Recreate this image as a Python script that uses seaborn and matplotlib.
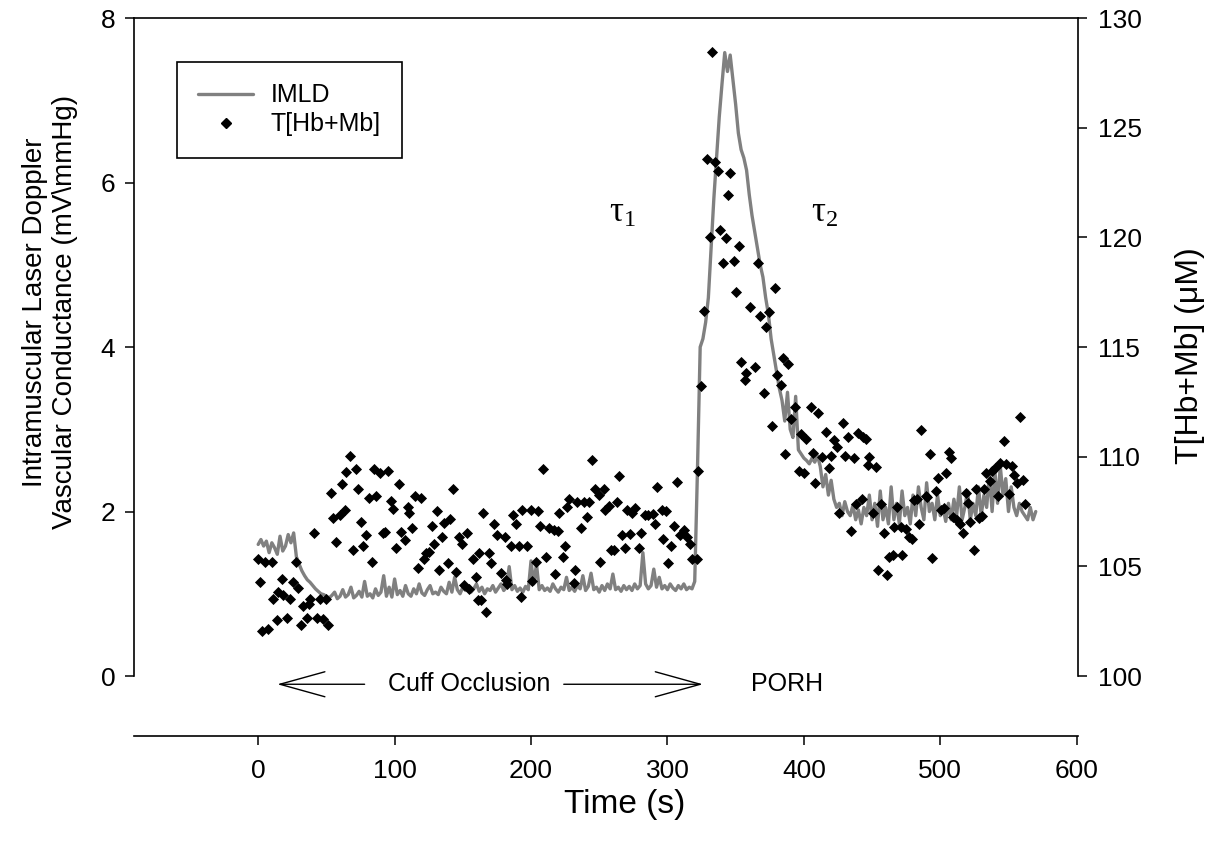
import numpy as np
import pandas as pd
import seaborn as sns
import matplotlib
matplotlib.use("Agg")
import matplotlib.pyplot as plt
from matplotlib.lines import Line2D


# IMLD (left axis, mV/mmHg), sampled every 2 s from 0 to 570 s
imld_time = np.arange(0, 572, 2)
imld_vals = [
    1.60, 1.66, 1.58, 1.64, 1.50, 1.62, 1.56, 1.48, 1.70, 1.52, 1.58, 1.72, 1.62,
    1.74, 1.45, 1.36, 1.28, 1.22, 1.17, 1.14, 1.10, 1.06, 1.03, 1.00, 0.99, 0.97,
    0.95, 0.98, 1.02, 0.94, 0.97, 1.05, 0.96, 0.99, 1.08, 0.95, 0.98, 1.03, 0.96,
    1.15, 0.97, 1.00, 0.95, 1.06, 0.98, 1.02, 1.22, 0.97, 1.08, 0.96, 1.18,
    0.99, 1.04, 0.97, 1.10, 1.00, 0.97, 1.06, 1.00, 1.12, 1.01, 0.98, 1.05, 1.10,
    1.00, 1.02, 0.99, 1.08, 1.03, 1.00, 1.14, 1.02, 1.20, 1.05, 1.00, 1.08,
    1.04, 1.10, 1.02, 1.06, 1.12, 1.03, 1.08, 1.00, 1.06, 1.04, 1.10, 1.02, 1.07,
    1.12, 1.04, 1.08, 1.33, 1.05, 1.10, 1.03, 1.07, 1.02, 1.09, 1.05, 1.40,
    1.12, 1.36, 1.05, 1.10, 1.04, 1.07, 1.03, 1.12, 1.06, 1.02, 1.08, 1.05, 1.20,
    1.04, 1.08, 1.03, 1.10, 1.06, 1.22, 1.04, 1.09, 1.25, 1.05, 1.08, 1.02,
    1.10, 1.04, 1.12, 1.06, 1.24, 1.05, 1.08, 1.03, 1.10, 1.05, 1.09, 1.04, 1.12,
    1.06, 1.10, 1.50, 1.12, 1.06, 1.10, 1.30, 1.08, 1.20, 1.06, 1.10, 1.05,
    1.12, 1.07, 1.04, 1.10, 1.06, 1.12, 1.05, 1.08, 1.06, 1.15, 2.50, 4.00, 4.10,
    4.30, 4.60, 5.20, 5.80, 6.30, 6.80, 7.20, 7.58, 7.35, 7.55, 7.25, 6.95,
    6.60, 6.40, 6.30, 6.15, 5.85, 5.60, 5.40, 5.20, 5.00, 4.85, 4.60, 4.40, 4.10,
    3.90, 3.70, 3.50, 3.35, 3.10, 3.45, 3.00, 2.90, 3.40, 2.75, 2.70, 2.65,
    2.62, 2.58, 2.65, 2.60, 2.68, 2.55, 2.30, 2.45, 2.20, 2.38, 2.15, 2.05, 2.10,
    1.95, 2.12, 2.00, 1.95, 2.08, 1.90, 2.02, 1.85, 2.05, 1.95, 2.20, 1.90,
    2.10, 1.82, 2.25, 1.90, 2.05, 1.85, 2.30, 1.90, 2.10, 1.85, 2.25, 1.95, 2.05,
    1.85, 2.20, 1.95, 2.30, 2.05, 1.90, 2.35, 2.00, 2.10, 1.90, 2.20, 1.95,
    2.05, 1.88, 2.10, 1.90, 2.15, 1.95, 2.30, 1.90, 2.05, 2.25, 1.90, 2.10, 1.95,
    2.30, 1.95, 2.20, 2.05, 2.45, 2.00, 2.50, 2.10, 2.55, 2.20, 2.40, 2.00,
    2.30, 2.05, 1.95, 2.10, 2.00, 1.95, 1.90, 2.05, 1.90, 2.00,
]

# T[Hb+Mb] (right axis, uM)
thb_time = [
    0.0, 1.5, 2.7, 5.1, 7.1, 10.0, 11.2, 13.6, 14.8, 17.3, 18.5, 21.4, 23.4, 25.8,
    27.5, 29.4, 31.4, 33.1, 35.5, 37.0, 38.0, 41.1, 43.3, 45.3, 47.7, 49.6, 51.3,
    53.3, 55.0, 57.4, 59.9, 61.1, 63.5, 64.7, 67.2, 69.6, 71.5, 73.2, 75.2, 76.9,
    78.8, 81.2, 83.2, 84.7, 86.6, 89.1, 91.5, 92.7, 95.1, 97.1, 98.8, 101.2, 102.9,
    104.9, 107.3, 109.7, 110.9, 112.9, 114.6, 117.0, 119.5, 121.4, 123.1, 125.5,
    127.2, 129.2, 131.2, 132.8, 134.8, 136.5, 138.9, 140.7, 143.1, 145.0, 146.9,
    149.1, 151.1, 153.1, 154.7, 157.2, 159.6, 160.8, 161.5, 163.3, 165.0, 166.9,
    169.3, 170.6, 173.0, 174.7, 177.9, 181.0, 181.5, 182.7, 185.2, 186.9, 188.8,
    191.2, 192.9, 193.7, 197.3, 199.8, 201.0, 203.4, 205.1, 206.6, 208.8, 210.7,
    213.1, 216.8, 217.5, 219.7, 220.4, 223.4, 224.8, 226.5, 227.7, 231.4, 232.6,
    233.8, 237.0, 238.7, 240.7, 242.8, 244.7, 246.7, 249.6, 250.9, 253.3, 254.5,
    256.9, 258.9, 260.6, 263.0, 264.7, 266.6, 268.6, 270.3, 272.8, 273.9, 276.4,
    278.8, 280.8, 283.2, 286.1, 289.1, 291.0, 292.7, 295.8, 296.6, 298.8, 300.7,
    302.7, 304.9, 306.8, 309.3, 312.4, 314.1, 316.6, 318.2, 321.4, 322.6, 324.3,
    326.8, 328.7, 331.2, 332.4, 334.8, 336.7, 338.5, 340.4, 342.8, 344.5, 346.2,
    348.9, 350.6, 352.6, 354.2, 356.7, 357.9, 360.4, 364.0, 366.4, 368.1, 370.8,
    372.5, 374.5, 376.9, 378.6, 380.5, 383.0, 384.7, 386.4, 388.3, 390.7, 393.2,
    396.1, 398.0, 400.0, 401.7, 404.9, 406.6, 408.5, 410.7, 413.1, 416.3, 418.8,
    419.9, 422.4, 424.3, 426.1, 428.5, 430.1, 432.1, 434.5, 437.0, 438.2, 439.4,
    442.3, 443.1, 445.5, 446.7, 448.0, 450.4, 452.8, 454.0, 456.4, 458.4, 460.8,
    462.6, 465.0, 466.2, 468.1, 471.0, 472.3, 474.7, 477.1, 479.1, 480.8, 483.2,
    484.5, 486.1, 489.3, 490.5, 492.2, 494.2, 496.6, 498.5, 500.2, 502.7, 504.4,
    506.4, 508.0, 509.5, 512.4, 514.4, 516.6, 518.5, 520.4, 522.1, 524.6, 526.3,
    528.2, 530.7, 532.3, 533.8, 536.3, 538.0, 540.4, 542.3, 544.0, 546.5, 548.4,
    550.6, 552.6, 554.2, 556.2, 558.6, 560.6, 562.3,
]
thb_vals = [
    105.32, 104.30, 102.05, 105.21, 102.13, 105.21, 103.51, 102.55, 103.84, 104.42,
    103.69, 102.63, 103.51, 104.30, 105.21, 104.03, 102.33, 103.21, 102.63, 103.30,
    103.51, 106.53, 102.63, 103.51, 102.59, 103.51, 102.33, 108.33, 107.19, 106.12,
    107.34, 108.74, 107.57, 109.32, 110.03, 105.75, 109.43, 108.53, 107.04, 105.94,
    106.43, 108.13, 105.21, 109.44, 108.22, 109.24, 106.51, 106.58, 109.35, 107.98,
    107.62, 105.85, 108.74, 106.55, 106.20, 107.72, 107.42, 106.73, 108.22, 104.91,
    108.13, 105.32, 105.60, 105.64, 106.84, 106.01, 107.52, 104.83, 106.35, 106.96,
    105.14, 107.15, 108.53, 104.73, 106.35, 106.01, 104.15, 106.53, 103.95, 105.32,
    104.53, 103.47, 105.62, 103.47, 107.45, 102.93, 105.60, 105.14, 106.93, 106.43,
    104.68, 106.32, 104.38, 104.20, 105.94, 107.34, 106.93, 105.94, 103.62, 107.57,
    105.94, 107.57, 104.33, 105.21, 107.52, 106.84, 109.43, 105.44, 106.73, 106.66,
    104.64, 106.63, 107.45, 105.44, 105.94, 107.72, 108.06, 104.23, 104.83, 107.92,
    106.73, 107.92, 107.26, 107.92, 109.85, 108.53, 108.25, 105.21, 108.53, 107.57,
    107.77, 105.75, 105.75, 107.95, 109.13, 106.43, 105.82, 107.57, 106.46, 107.45,
    107.65, 105.82, 106.53, 107.34, 107.34, 107.37, 106.93, 108.63, 107.57, 106.23,
    107.54, 105.14, 105.94, 106.84, 108.83, 106.43, 106.66, 106.35, 106.02, 105.32,
    105.32, 109.36, 113.24, 116.64, 123.56, 120.03, 128.47, 123.45, 123.03, 120.34,
    118.82, 119.99, 121.93, 122.95, 118.92, 117.52, 119.62, 114.33, 113.50, 113.80,
    116.81, 114.10, 118.82, 116.42, 112.92, 115.93, 116.61, 111.41, 117.71, 113.73,
    113.27, 114.49, 110.12, 114.21, 111.72, 112.25, 109.36, 111.02, 109.24, 110.79,
    112.25, 110.18, 108.81, 111.98, 109.97, 111.14, 109.47, 110.05, 110.76, 110.46,
    107.42, 111.52, 110.05, 110.91, 106.63, 109.95, 107.84, 111.07, 108.06, 110.91,
    110.79, 109.62, 110.00, 107.45, 109.54, 104.83, 107.84, 106.53, 104.61, 105.44,
    105.52, 106.81, 107.72, 106.81, 105.52, 106.69, 106.35, 106.23, 108.03, 108.06,
    106.93, 111.22, 108.22, 108.15, 110.12, 105.37, 108.45, 109.04, 107.57, 107.65,
    109.24, 110.23, 109.93, 107.26, 107.11, 106.93, 106.53, 108.36, 107.88, 107.04,
    105.75, 108.51, 107.19, 107.31, 108.53, 109.24, 108.91, 109.36, 109.47, 108.22,
    109.73, 110.72, 109.67, 108.29, 109.59, 109.17, 108.81, 111.82, 108.94, 107.83,
]

x_ticks = [0, 100, 200, 300, 400, 500, 600]
left_ticks = [0, 2, 4, 6, 8]
right_ticks = [100, 105, 110, 115, 120, 125, 130]

sns.set_style("ticks")
plt.rcParams["font.family"] = ["Liberation Sans", "DejaVu Sans"]
plt.rcParams["mathtext.fontset"] = "custom"
plt.rcParams["mathtext.rm"] = "Liberation Serif"
plt.rcParams["mathtext.it"] = "Liberation Serif:italic"
plt.rcParams["text.color"] = "black"
plt.rcParams["axes.labelcolor"] = "black"

fig = plt.figure(figsize=(12.22, 8.51), dpi=100)
ax = fig.add_axes([0.1097, 0.2056, 0.7725, 0.7732])
ax2 = ax.twinx()

line_df = pd.DataFrame({"t": imld_time, "v": imld_vals})
dot_df = pd.DataFrame({"t": thb_time, "v": thb_vals})

sns.lineplot(data=line_df, x="t", y="v", ax=ax, color="#808080", linewidth=2.4, legend=False)
sns.scatterplot(data=dot_df, x="t", y="v", ax=ax2, marker="D", s=32, color="black",
                linewidth=0, legend=False, zorder=3)

ax.set_xlim(-91, 601)
ax.set_ylim(0, 8)
ax2.set_ylim(100, 130)
ax.set_xticks(x_ticks)
ax.set_yticks(left_ticks)
ax2.set_yticks(right_ticks)

# spines: offset bottom axis like SigmaPlot
ax.spines["bottom"].set_position(("outward", 43))
ax.spines["right"].set_visible(False)
for s in ["left", "top", "bottom"]:
    ax.spines[s].set_linewidth(1.2)
    ax.spines[s].set_color("black")
for s in ["left", "top", "bottom"]:
    ax2.spines[s].set_visible(False)
ax2.spines["right"].set_linewidth(1.2)
ax2.spines["right"].set_color("black")

ax.tick_params(axis="y", direction="out", length=6.5, width=1.1, labelsize=19, pad=7,
               colors="black")
ax.tick_params(axis="x", direction="out", length=6.5, width=1.1, labelsize=19, pad=10,
               colors="black")
ax2.tick_params(direction="out", length=6.5, width=1.1, labelsize=19, pad=8, colors="black")

ax.set_xlabel("Time (s)", fontsize=24)
ax.xaxis.set_label_coords(0.52, -0.172)
ax.set_ylabel("Intramuscular Laser Doppler\nVascular Conductance (mV\\mmHg)",
              fontsize=20, linespacing=1.2)
ax.yaxis.set_label_coords(-0.059, 0.553)
ax2.set_ylabel("T[Hb+Mb] (μM)", fontsize=23)
ax2.yaxis.set_label_coords(1.103, 0.487)

# legend
handles = [Line2D([], [], color="#808080", lw=2.4),
           Line2D([], [], marker="D", ls="none", color="black", markersize=5.5)]
leg = ax2.legend(handles, ["IMLD", "T[Hb+Mb]"], loc="upper left",
                 bbox_to_anchor=(0.0455, 0.933), borderaxespad=0, frameon=True,
                 fancybox=False, edgecolor="black", framealpha=1, fontsize=18,
                 borderpad=0.85, handlelength=2.2, handletextpad=0.7, labelspacing=0.2)
leg.get_frame().set_linewidth(1.2)

# annotations
ax.text(267, 5.63, r"$\mathrm{\tau}_{\mathrm{1}}$", fontsize=25, ha="center", va="center")
ax.text(415, 5.63, r"$\mathrm{\tau}_{\mathrm{2}}$", fontsize=25, ha="center", va="center")

arrow = dict(arrowstyle="->,head_length=1.8,head_width=0.5", mutation_scale=18,
             lw=1.0, color="black", shrinkA=0, shrinkB=0)
ax.annotate("", xy=(14, -0.1), xytext=(78, -0.1), arrowprops=arrow, annotation_clip=False)
ax.annotate("", xy=(326, -0.1), xytext=(224, -0.1), arrowprops=arrow, annotation_clip=False)
ax.text(155, -0.1, "Cuff Occlusion", fontsize=18, ha="center", va="center")
ax.text(388, -0.1, "PORH", fontsize=18, ha="center", va="center")

plt.savefig("out.png", dpi=100)
plt.close("all")
